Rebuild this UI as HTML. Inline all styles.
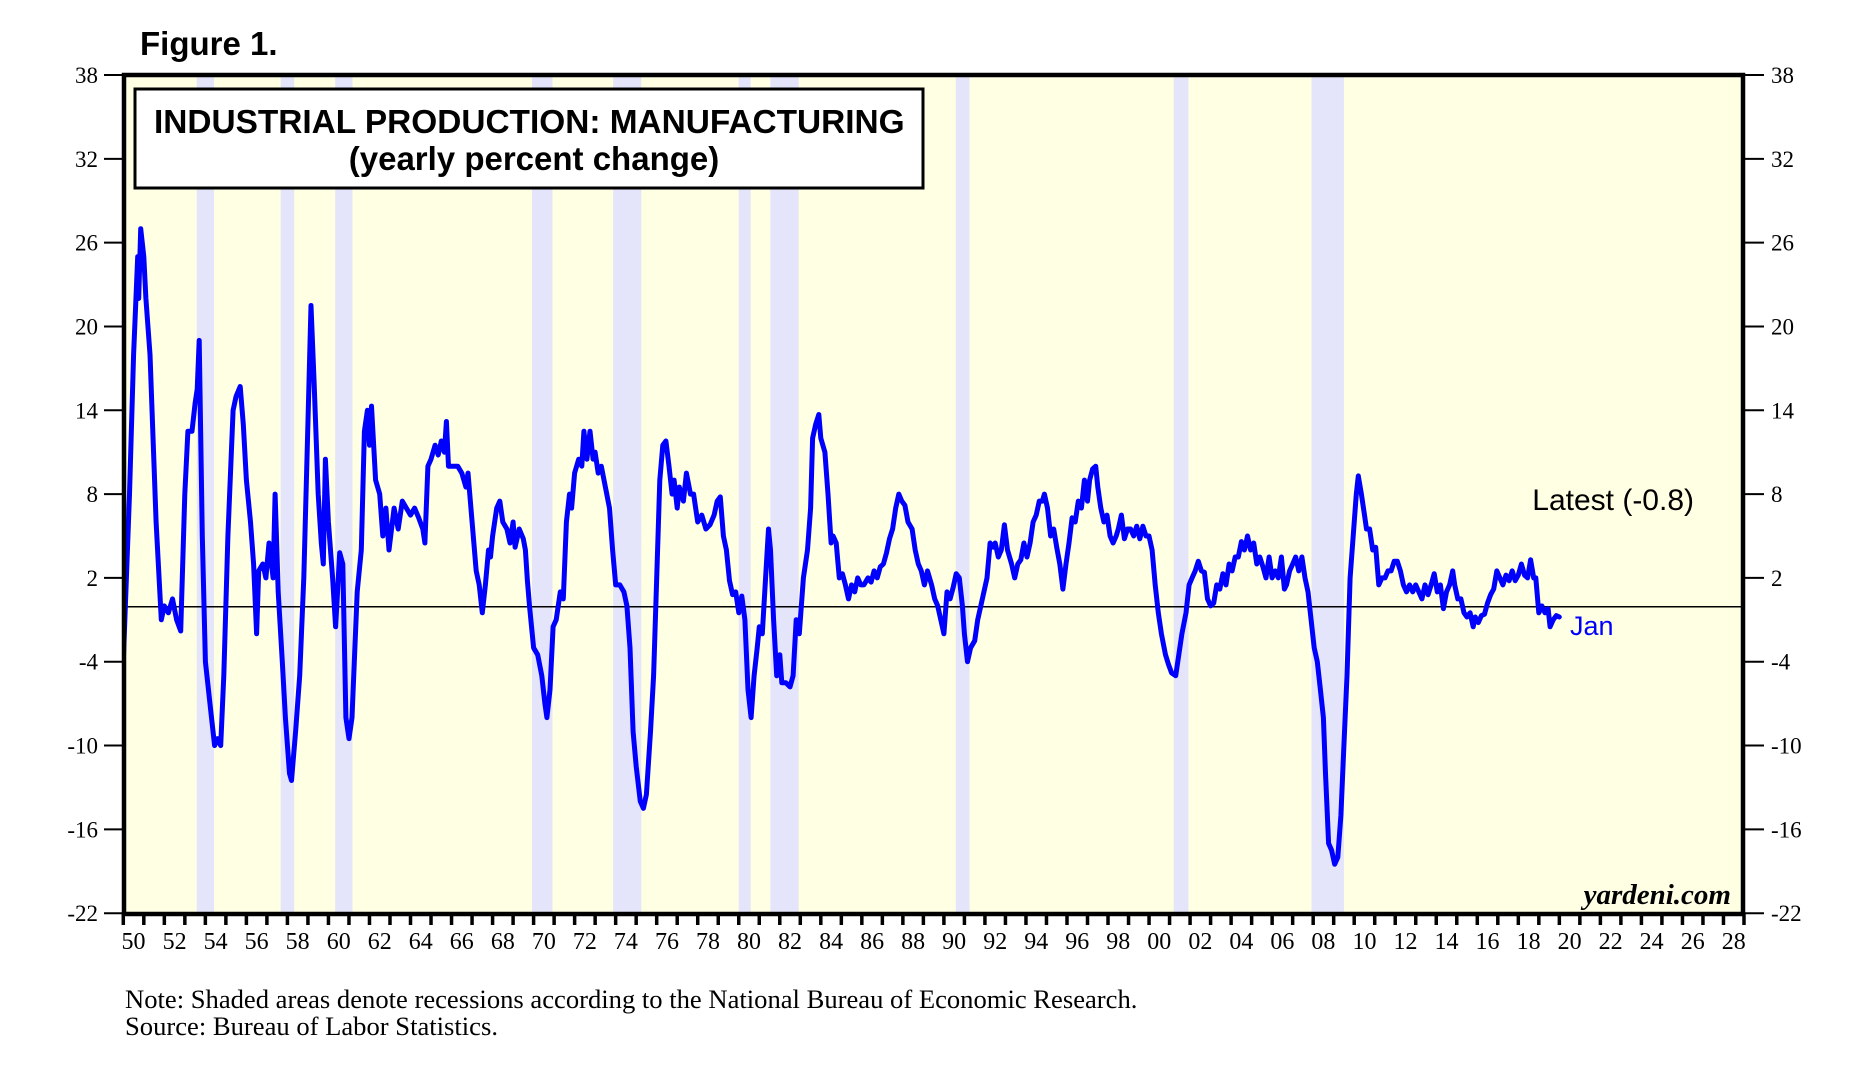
<!DOCTYPE html>
<html><head><meta charset="utf-8"><style>
html,body{margin:0;padding:0;background:#fff;}
svg{display:block;}
</style></head><body>
<svg id="chart" width="1871" height="1071" viewBox="0 0 1871 1071" xmlns="http://www.w3.org/2000/svg">
<text x="140" y="55" font-family="Liberation Sans, sans-serif" font-weight="bold" font-size="33">Figure 1.</text>
<rect x="124" y="75" width="1619" height="839" fill="#ffffe3"/>
<g id="bands"></g>
<line x1="124" x2="1743" y1="606.8" y2="606.8" stroke="#000" stroke-width="1.5"/>
<defs><clipPath id="pc"><rect x="126" y="77" width="1615" height="835"/></clipPath></defs>
<g id="series" clip-path="url(#pc)"></g>
<rect x="135" y="89" width="788" height="99" fill="#fff" stroke="#000" stroke-width="3"/>
<text x="154" y="133" font-family="Liberation Sans, sans-serif" font-weight="bold" font-size="33.4">INDUSTRIAL PRODUCTION: MANUFACTURING</text>
<text x="534" y="170" text-anchor="middle" font-family="Liberation Sans, sans-serif" font-weight="bold" font-size="33">(yearly percent change)</text>
<text x="1694" y="510" text-anchor="end" font-family="Liberation Sans, sans-serif" font-size="30">Latest (-0.8)</text>
<text x="1570" y="635" fill="#0000ff" font-family="Liberation Sans, sans-serif" font-size="27">Jan</text>
<text x="1731" y="904" text-anchor="end" font-family="Liberation Serif, serif" font-style="italic" font-weight="bold" font-size="29">yardeni.com</text>
<rect x="124" y="75" width="1619" height="839" fill="none" stroke="#000" stroke-width="4.5"/>
<g id="axes"></g>
<text x="125" y="1008" font-family="Liberation Serif, serif" font-size="26.6">Note: Shaded areas denote recessions according to the National Bureau of Economic Research.</text>
<text x="125" y="1035" font-family="Liberation Serif, serif" font-size="26.6">Source: Bureau of Labor Statistics.</text>
</svg>
<script>
const recessionStarts=[1953.58,1957.67,1960.33,1969.92,1973.88,1980.0,1981.54,1990.58,2001.2,2007.92];
const recessionEnds=[1954.42,1958.33,1961.17,1970.92,1975.25,1980.58,1982.92,1991.25,2001.92,2009.5];
const yTicks=[38,32,26,20,14,8,2,-4,-10,-16,-22];
const dates=[1950.0,1950.3,1950.5,1950.7,1950.75,1950.85,1951.0,1951.1,1951.3,1951.6,1951.85,1952.0,1952.2,1952.4,1952.6,1952.8,1953.0,1953.15,1953.35,1953.5,1953.6,1953.7,1953.85,1954.0,1954.3,1954.45,1954.6,1954.75,1954.9,1955.1,1955.35,1955.5,1955.7,1955.85,1956.0,1956.2,1956.35,1956.5,1956.6,1956.8,1956.95,1957.1,1957.3,1957.4,1957.55,1957.75,1957.9,1958.1,1958.2,1958.4,1958.6,1958.8,1959.0,1959.15,1959.3,1959.5,1959.65,1959.75,1959.85,1960.0,1960.2,1960.35,1960.55,1960.7,1960.85,1961.0,1961.15,1961.4,1961.6,1961.75,1961.9,1962.0,1962.1,1962.3,1962.5,1962.65,1962.8,1962.95,1963.2,1963.4,1963.6,1963.8,1964.0,1964.2,1964.4,1964.6,1964.7,1964.85,1965.0,1965.2,1965.35,1965.5,1965.65,1965.75,1965.85,1966.0,1966.3,1966.5,1966.7,1966.8,1967.0,1967.2,1967.35,1967.5,1967.65,1967.8,1967.9,1968.0,1968.2,1968.35,1968.5,1968.7,1968.85,1969.0,1969.1,1969.3,1969.5,1969.6,1969.7,1969.8,1970.0,1970.2,1970.4,1970.55,1970.65,1970.8,1970.95,1971.1,1971.3,1971.45,1971.6,1971.75,1971.85,1972.0,1972.2,1972.35,1972.45,1972.6,1972.75,1972.9,1973.0,1973.15,1973.3,1973.5,1973.7,1973.85,1974.0,1974.2,1974.4,1974.55,1974.7,1974.85,1975.0,1975.2,1975.35,1975.5,1975.7,1975.85,1976.0,1976.15,1976.3,1976.45,1976.6,1976.75,1976.85,1977.0,1977.1,1977.3,1977.45,1977.65,1977.8,1978.0,1978.2,1978.4,1978.6,1978.8,1978.95,1979.1,1979.25,1979.4,1979.55,1979.7,1979.85,1980.0,1980.15,1980.3,1980.45,1980.6,1980.75,1980.9,1981.0,1981.15,1981.35,1981.45,1981.55,1981.7,1981.85,1982.0,1982.1,1982.3,1982.5,1982.65,1982.8,1982.95,1983.15,1983.35,1983.5,1983.6,1983.75,1983.9,1984.0,1984.2,1984.35,1984.5,1984.6,1984.75,1984.9,1985.05,1985.2,1985.35,1985.5,1985.65,1985.8,1985.95,1986.1,1986.3,1986.45,1986.6,1986.75,1986.9,1987.05,1987.2,1987.35,1987.5,1987.65,1987.8,1987.95,1988.1,1988.25,1988.45,1988.6,1988.75,1988.9,1989.05,1989.2,1989.4,1989.55,1989.7,1989.85,1990.0,1990.15,1990.3,1990.45,1990.6,1990.75,1990.9,1991.0,1991.15,1991.3,1991.5,1991.65,1991.8,1991.95,1992.1,1992.25,1992.4,1992.5,1992.65,1992.8,1992.95,1993.1,1993.3,1993.45,1993.6,1993.75,1993.9,1994.05,1994.2,1994.35,1994.5,1994.65,1994.8,1994.9,1995.05,1995.2,1995.35,1995.5,1995.65,1995.8,1995.95,1996.1,1996.25,1996.4,1996.55,1996.7,1996.85,1997.0,1997.1,1997.25,1997.4,1997.5,1997.65,1997.8,1997.95,1998.1,1998.25,1998.4,1998.5,1998.65,1998.8,1998.95,1999.1,1999.25,1999.4,1999.55,1999.7,1999.85,2000.0,2000.15,2000.3,2000.45,2000.6,2000.8,2000.95,2001.1,2001.3,2001.45,2001.6,2001.8,2001.95,2002.1,2002.25,2002.4,2002.55,2002.7,2002.85,2003.0,2003.15,2003.3,2003.45,2003.6,2003.75,2003.9,2004.05,2004.2,2004.35,2004.5,2004.65,2004.8,2004.95,2005.1,2005.25,2005.4,2005.55,2005.7,2005.85,2006.0,2006.15,2006.3,2006.45,2006.6,2006.7,2006.85,2007.0,2007.15,2007.3,2007.45,2007.6,2007.75,2007.9,2008.05,2008.2,2008.35,2008.5,2008.6,2008.75,2008.9,2009.05,2009.2,2009.35,2009.5,2009.65,2009.8,2009.95,2010.1,2010.2,2010.35,2010.5,2010.6,2010.75,2010.9,2011.05,2011.2,2011.35,2011.5,2011.65,2011.8,2011.95,2012.1,2012.25,2012.4,2012.55,2012.7,2012.85,2013.0,2013.15,2013.3,2013.45,2013.6,2013.75,2013.9,2014.05,2014.2,2014.35,2014.5,2014.65,2014.8,2014.9,2015.05,2015.2,2015.35,2015.5,2015.65,2015.8,2015.9,2016.05,2016.2,2016.35,2016.5,2016.65,2016.8,2016.95,2017.1,2017.25,2017.4,2017.55,2017.7,2017.85,2018.0,2018.15,2018.3,2018.45,2018.6,2018.75,2018.85,2019.0,2019.15,2019.3,2019.45,2019.55,2019.7,2019.85,2020.0];
const values=[-4,8,18,25,22,27,25,22,18,6,-1,0,-0.5,0.5,-1,-1.8,8,12.5,12.5,14.5,15.5,19,5,-4,-8,-10,-9.5,-10,-5,5,14,15,15.7,13,9,6,3,-2,2.5,3,2,4.5,2,8,1,-4,-8,-12,-12.5,-9,-5,2,13,21.5,16,8,4.5,3,10.5,6,2,-1.5,3.8,3,-8,-9.5,-8,1,4,12.5,14,11.5,14.3,9,8,5,7,4,7,5.5,7.5,7,6.5,7,6.3,5.5,4.5,10,10.5,11.5,10.8,11.8,11,13.2,10,10,10,9.5,8.5,9.5,6,2.5,1.5,-0.5,1.5,4,3.5,5,7,7.5,6,5.5,4.5,6,4.2,5.5,4.8,4,1.8,0,-3,-3.5,-5,-7,-8,-6,-1.5,-1,1,0.5,6,8,7,9.5,10.5,10,12.5,10.5,12.5,10.5,11,9.5,10,8.5,7,4,1.5,1.5,1,0,-3,-9,-11.5,-14,-14.5,-13.5,-9,-5,2,9,11.5,11.8,10,8,9,7,8.5,7.5,9.5,8,8,6,6.5,5.5,5.8,6.5,7.5,7.8,5,4,1.8,0.8,1,-0.5,0.7,-1,-6,-8,-5,-3,-1.5,-2,3,5.5,4,-1,-5,-3.5,-5.5,-5.5,-5.8,-5,-1,-2,2,4,7,12,13,13.7,12,11,8,4.5,5,4.5,2,2.3,1.5,0.5,1.5,1,2,1.5,1.5,2,1.7,2.5,2,2.8,3,3.8,4.8,5.5,7,8,7.5,7.2,6,5.5,4,3,2.5,1.5,2.5,1.5,0.5,0,-1,-2,1,0.5,1.3,2.3,2,0,-2,-4,-3,-2.5,-1,0,1,2,4.5,4.2,4.5,3.5,4,5.8,4,3,2,3,3.3,4.5,3.5,4.5,6,6.5,7.5,7.5,8,7,5,5.5,4.2,3,1.2,3,4.5,6.3,6,7.5,7,9,7.5,9,9.8,10,8.5,7,6,6.5,5,4.5,5,5.5,6.5,4.8,5.5,5.5,5,5.7,4.8,5.7,5,5,4,1.5,-0.5,-2,-3.5,-4.2,-4.8,-5,-3.5,-2,-0.5,1.5,2,2.5,3.2,2.5,2.4,0.5,0,0.2,1.5,1.2,2.3,1.5,3,2.5,3.5,3.5,4.6,4,5,4,4.5,3,3.5,2.8,2,3.5,2,2.5,2,3.5,1.2,1.5,2.5,3,3.5,2.5,3.5,2,1,-1,-3,-4,-6,-8,-12,-17,-17.5,-18.5,-18,-15,-10,-5,2,5,8,9.3,8,6.5,5.5,5.5,4,4.2,1.5,2,2,2.5,2.5,3.2,3.2,2.5,1.5,1,1.5,1,1.5,1,0.5,1.5,0.8,1.5,2.3,1,1.5,-0.2,1,1.5,2.5,1.5,0.5,0.5,-0.5,-0.8,-0.5,-1.5,-0.8,-1.2,-0.7,-0.6,0.2,0.8,1.2,2.5,2,1.5,2.2,1.8,2.5,1.8,2.2,3,2.2,2,3.3,2,2,-0.5,0,-0.5,-0.2,-1.5,-1,-0.7,-0.8];

const NS='http://www.w3.org/2000/svg';
const X0=123.3, PXY=20.515, Y38=75, PXV=13.97;
function xs(yr){return X0+(yr-1950)*PXY;}
function ys(v){return Y38+(38-v)*PXV;}
function mk(tag,attrs,parent){const e=document.createElementNS(NS,tag);for(const k in attrs)e.setAttribute(k,attrs[k]);parent.appendChild(e);return e;}

const bands=document.getElementById('bands');
for(let i=0;i<recessionStarts.length;i++){
  const r=mk('rect',{x:xs(recessionStarts[i]),y:77,width:xs(recessionEnds[i])-xs(recessionStarts[i]),height:835,fill:'#e4e4fb'},bands);
  
  
}

const series=document.getElementById('series');
let d='';
for(let i=0;i<dates.length;i++){d+=(i?'L':'M')+xs(dates[i]).toFixed(1)+','+ys(values[i]).toFixed(1);}
const p=mk('path',{d:d,fill:'none',stroke:'#0000ff','stroke-width':5,'stroke-linejoin':'round','stroke-linecap':'round'},series);



const axes=document.getElementById('axes');
for(const v of yTicks){
  const y=ys(v);
  const l1=mk('line',{x1:104,x2:124,y1:y,y2:y,stroke:'#000','stroke-width':2},axes);
  
  
  const t1=mk('text',{x:98,y:y+8,'text-anchor':'end','font-family':'Liberation Serif, serif','font-size':23},axes);
  t1.textContent=v;
  
  
  const l2=mk('line',{x1:1743,x2:1764,y1:y,y2:y,stroke:'#000','stroke-width':2},axes);
  
  
  const t2=mk('text',{x:1771,y:y+8,'font-family':'Liberation Serif, serif','font-size':23},axes);
  t2.textContent=v;
  
  
}
for(let yr=1950;yr<=2029;yr++){
  const x=xs(yr);
  const l=mk('line',{x1:x,x2:x,y1:914,y2:925,stroke:'#000','stroke-width':3.5},axes);
  
  
  if(yr%2===0 && yr<2029){
    const t=mk('text',{x:xs(yr+0.5),y:949,'text-anchor':'middle','font-family':'Liberation Serif, serif','font-size':24},axes);
    t.textContent=String(yr%100).padStart(2,'0');
    
    
  }
}
</script>
</body></html>
